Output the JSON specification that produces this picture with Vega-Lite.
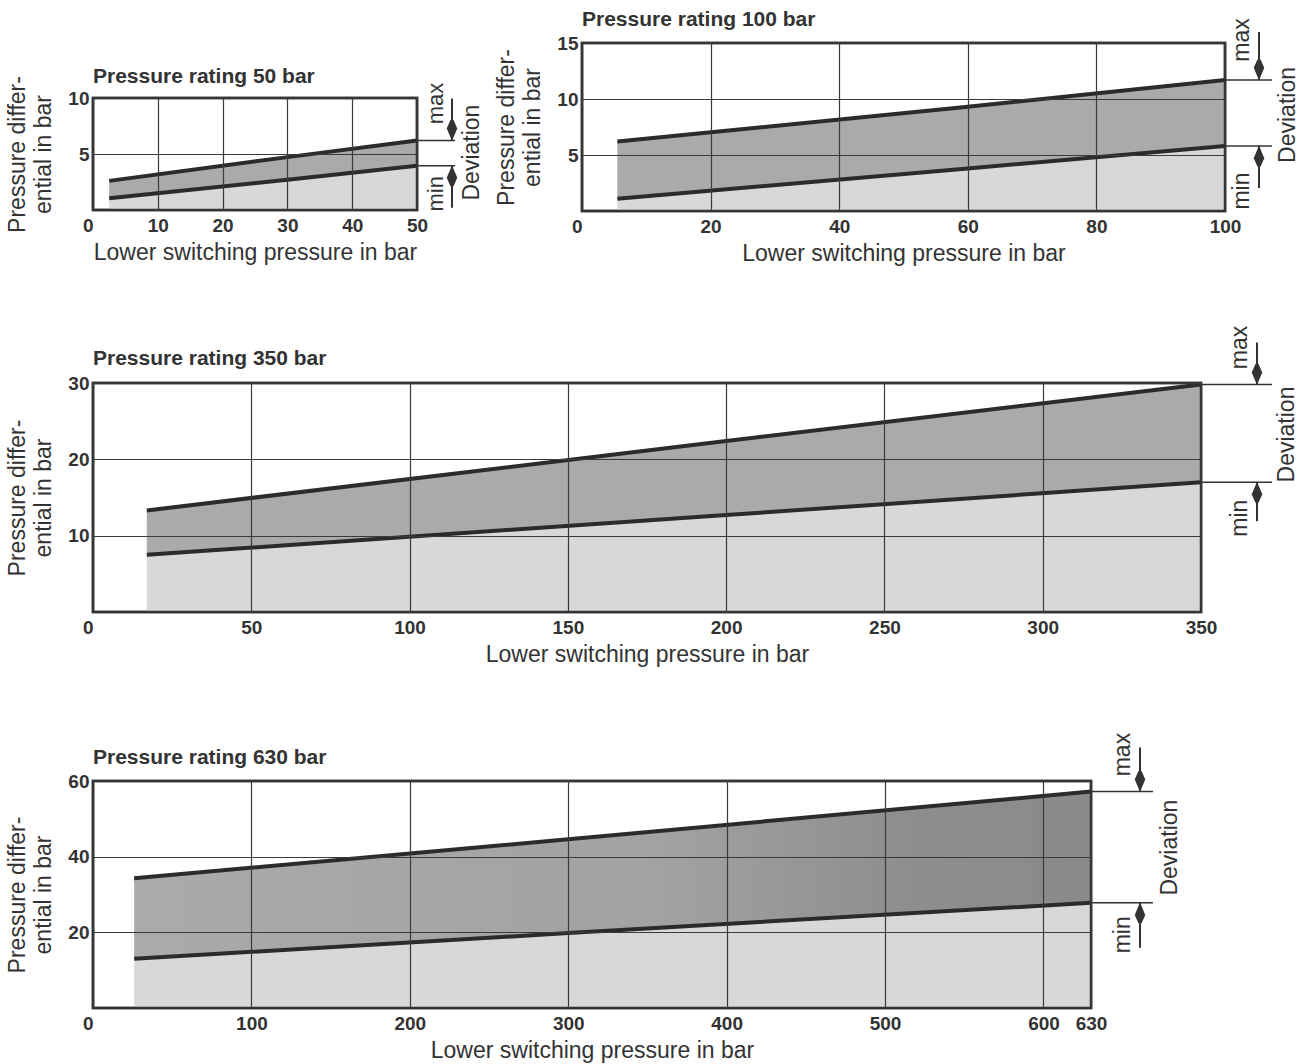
{
  "$schema": "https://vega.github.io/schema/vega-lite/v6.json",
  "background": "white",
  "padding": {"left": 5, "top": 7, "right": 5, "bottom": 0},
  "config": {
    "view": {"stroke": "#333333", "strokeWidth": 2.5},
    "axis": {"grid": true, "gridColor": "#3a3a3a", "gridWidth": 1.2, "gridOpacity": 1, "domain": false, "ticks": false,
      "labelFont": "Liberation Sans", "labelFontSize": 19, "labelFontWeight": "bold", "labelColor": "#333333",
      "titleFont": "Liberation Sans", "titleFontSize": 23, "titleFontWeight": "normal", "titleColor": "#333333",
      "labelOverlap": false},
    "axisX": {"labelPadding": 6, "titlePadding": 6, "labelFlush": false},
    "axisY": {"labelPadding": 4, "titlePadding": 12, "titleLineHeight": 26},
    "text": {"font": "Liberation Sans"}
  },
  "datasets": {
    "r50": [{"p": 2.5, "lo": 1.05, "hi": 2.6}, {"p": 30, "lo": 2.7, "hi": 4.72}, {"p": 50, "lo": 3.95, "hi": 6.2}],
    "r100": [{"p": 5.5, "lo": 1.1, "hi": 6.2}, {"p": 60, "lo": 3.8, "hi": 9.3}, {"p": 100, "lo": 5.8, "hi": 11.7}],
    "r350": [{"p": 17, "lo": 7.5, "hi": 13.3}, {"p": 200, "lo": 12.7, "hi": 22.4}, {"p": 350, "lo": 17.0, "hi": 29.8}],
    "r630": [{"p": 26, "lo": 13.0, "hi": 34.3}, {"p": 300, "lo": 19.8, "hi": 44.6}, {"p": 630, "lo": 27.8, "hi": 57.2}]
  },
  "spacing": 57,
  "vconcat": [
    {
      "columns": 2,
      "align": "none",
      "spacing": 8,
      "concat": [
        {"spacing": 20, "vconcat": [
        {"width": 10, "height": 1, "view": {"stroke": null, "fill": null}, "data": {"values": [{}]},
         "mark": {"type": "point", "opacity": 0, "size": 0}, "encoding": {}},
        {
          "width": 324, "height": 112,
          "data": {"name": "r50"},
          "layer": [
            {"mark": {"type": "area", "color": "#d8d8d8"},
             "encoding": {
               "x": {"field": "p", "type": "quantitative", "scale": {"domain": [0, 50], "nice": false, "zero": false},
                     "axis": {"values": [0, 10, 20, 30, 40, 50], "title": "Lower switching pressure in bar", "zindex": 1,
                              "labelExpr": "datum.value === 0 ? '0 ' : datum.label",
                              "labelAlign": {"condition": {"test": "datum.value === 0", "value": "right"}, "value": "center"}}},
               "y": {"field": "lo", "type": "quantitative", "scale": {"domain": [0, 10], "nice": false},
                     "axis": {"values": [5, 10], "title": ["Pressure differ-", "ential in bar"], "zindex": 1}},
               "y2": {"datum": 0}}},
            {"mark": {"type": "area", "color": "#aaaaaa"},
             "encoding": {"x": {"field": "p", "type": "quantitative"}, "y": {"field": "hi", "type": "quantitative"}, "y2": {"field": "lo"}}},
            {"mark": {"type": "line", "color": "#2b2b2b", "strokeWidth": 4}, "encoding": {"x": {"field": "p", "type": "quantitative"}, "y": {"field": "lo", "type": "quantitative"}}},
            {"mark": {"type": "line", "color": "#2b2b2b", "strokeWidth": 4}, "encoding": {"x": {"field": "p", "type": "quantitative"}, "y": {"field": "hi", "type": "quantitative"}}},
            {"data": {"values": [{}]}, "mark": {"type": "rect", "fill": null, "stroke": "#333333", "strokeWidth": 2.5},
             "encoding": {"x": {"datum": 0}, "x2": {"datum": 50}, "y": {"datum": 0}, "y2": {"datum": 10}}},
            {"transform": [{"joinaggregate": [{"op": "max", "field": "p", "as": "pm"}]}, {"filter": "datum.p == datum.pm"}],
             "layer": [
               {"mark": {"type": "rule", "color": "#333333", "strokeWidth": 1.5, "x2Offset": 38}, "encoding": {"x": {"field": "p", "type": "quantitative"}, "x2": {"field": "p"}, "y": {"field": "hi", "type": "quantitative"}}},
               {"mark": {"type": "rule", "color": "#333333", "strokeWidth": 1.5, "x2Offset": 38}, "encoding": {"x": {"field": "p", "type": "quantitative"}, "x2": {"field": "p"}, "y": {"field": "lo", "type": "quantitative"}}},
               {"mark": {"type": "rule", "color": "#333333", "strokeWidth": 2, "xOffset": 35, "y2Offset": -42}, "encoding": {"x": {"field": "p", "type": "quantitative"}, "y": {"field": "hi", "type": "quantitative"}, "y2": {"field": "hi"}}},
               {"mark": {"type": "rule", "color": "#333333", "strokeWidth": 2, "xOffset": 35, "y2Offset": 42}, "encoding": {"x": {"field": "p", "type": "quantitative"}, "y": {"field": "lo", "type": "quantitative"}, "y2": {"field": "lo"}}},
               {"mark": {"type": "point", "shape": "M-0.15,-1L0.15,-1L0.5,-0.2L0,1L-0.5,-0.2Z", "filled": true, "opacity": 1, "strokeWidth": 0, "color": "#333333", "size": 441, "xOffset": 35, "yOffset": -10}, "encoding": {"x": {"field": "p", "type": "quantitative"}, "y": {"field": "hi", "type": "quantitative"}}},
               {"mark": {"type": "point", "shape": "M-0.15,1L0.15,1L0.5,0.2L0,-1L-0.5,0.2Z", "filled": true, "opacity": 1, "strokeWidth": 0, "color": "#333333", "size": 441, "xOffset": 35, "yOffset": 10}, "encoding": {"x": {"field": "p", "type": "quantitative"}, "y": {"field": "lo", "type": "quantitative"}}},
               {"mark": {"type": "text", "text": "max", "angle": 270, "align": "center", "baseline": "middle", "fontSize": 22, "color": "#333333", "xOffset": 19, "yOffset": -37}, "encoding": {"x": {"field": "p", "type": "quantitative"}, "y": {"field": "hi", "type": "quantitative"}}},
               {"mark": {"type": "text", "text": "min", "angle": 270, "align": "center", "baseline": "middle", "fontSize": 22, "color": "#333333", "xOffset": 19, "yOffset": 28}, "encoding": {"x": {"field": "p", "type": "quantitative"}, "y": {"field": "lo", "type": "quantitative"}}},
               {"mark": {"type": "text", "text": "Deviation", "angle": 270, "align": "center", "baseline": "middle", "fontSize": 23, "color": "#333333", "xOffset": 55, "yOffset": 12}, "encoding": {"x": {"field": "p", "type": "quantitative"}, "y": {"field": "hi", "type": "quantitative"}}}
             ]},
            {"data": {"values": [{}]}, "mark": {"type": "text", "text": "Pressure rating 50 bar", "align": "left", "baseline": "alphabetic", "fontSize": 21, "fontWeight": "bold", "color": "#333333", "yOffset": -15},
             "encoding": {"x": {"datum": 0}, "y": {"datum": 10}}}
          ]
        }]},
        {
          "width": 643, "height": 168,
          "data": {"name": "r100"},
          "layer": [
            {"mark": {"type": "area", "color": "#d8d8d8"},
             "encoding": {
               "x": {"field": "p", "type": "quantitative", "scale": {"domain": [0, 100], "nice": false, "zero": false},
                     "axis": {"values": [0, 20, 40, 60, 80, 100], "title": "Lower switching pressure in bar", "zindex": 1,
                              "labelExpr": "datum.value === 0 ? '0 ' : datum.label",
                              "labelAlign": {"condition": {"test": "datum.value === 0", "value": "right"}, "value": "center"}}},
               "y": {"field": "lo", "type": "quantitative", "scale": {"domain": [0, 15], "nice": false},
                     "axis": {"values": [5, 10, 15], "title": ["Pressure differ-", "ential in bar"], "zindex": 1}},
               "y2": {"datum": 0}}},
            {"mark": {"type": "area", "color": "#aaaaaa"},
             "encoding": {"x": {"field": "p", "type": "quantitative"}, "y": {"field": "hi", "type": "quantitative"}, "y2": {"field": "lo"}}},
            {"mark": {"type": "line", "color": "#2b2b2b", "strokeWidth": 4}, "encoding": {"x": {"field": "p", "type": "quantitative"}, "y": {"field": "lo", "type": "quantitative"}}},
            {"mark": {"type": "line", "color": "#2b2b2b", "strokeWidth": 4}, "encoding": {"x": {"field": "p", "type": "quantitative"}, "y": {"field": "hi", "type": "quantitative"}}},
            {"data": {"values": [{}]}, "mark": {"type": "rect", "fill": null, "stroke": "#333333", "strokeWidth": 2.5},
             "encoding": {"x": {"datum": 0}, "x2": {"datum": 100}, "y": {"datum": 0}, "y2": {"datum": 15}}},
            {"transform": [{"joinaggregate": [{"op": "max", "field": "p", "as": "pm"}]}, {"filter": "datum.p == datum.pm"}],
             "layer": [
               {"mark": {"type": "rule", "color": "#333333", "strokeWidth": 1.5, "x2Offset": 47}, "encoding": {"x": {"field": "p", "type": "quantitative"}, "x2": {"field": "p"}, "y": {"field": "hi", "type": "quantitative"}}},
               {"mark": {"type": "rule", "color": "#333333", "strokeWidth": 1.5, "x2Offset": 47}, "encoding": {"x": {"field": "p", "type": "quantitative"}, "x2": {"field": "p"}, "y": {"field": "lo", "type": "quantitative"}}},
               {"mark": {"type": "rule", "color": "#333333", "strokeWidth": 2, "xOffset": 34, "y2Offset": -48}, "encoding": {"x": {"field": "p", "type": "quantitative"}, "y": {"field": "hi", "type": "quantitative"}, "y2": {"field": "hi"}}},
               {"mark": {"type": "rule", "color": "#333333", "strokeWidth": 2, "xOffset": 34, "y2Offset": 42}, "encoding": {"x": {"field": "p", "type": "quantitative"}, "y": {"field": "lo", "type": "quantitative"}, "y2": {"field": "lo"}}},
               {"mark": {"type": "point", "shape": "M-0.15,-1L0.15,-1L0.5,-0.2L0,1L-0.5,-0.2Z", "filled": true, "opacity": 1, "strokeWidth": 0, "color": "#333333", "size": 441, "xOffset": 34, "yOffset": -10}, "encoding": {"x": {"field": "p", "type": "quantitative"}, "y": {"field": "hi", "type": "quantitative"}}},
               {"mark": {"type": "point", "shape": "M-0.15,1L0.15,1L0.5,0.2L0,-1L-0.5,0.2Z", "filled": true, "opacity": 1, "strokeWidth": 0, "color": "#333333", "size": 441, "xOffset": 34, "yOffset": 10}, "encoding": {"x": {"field": "p", "type": "quantitative"}, "y": {"field": "lo", "type": "quantitative"}}},
               {"mark": {"type": "text", "text": "max", "angle": 270, "align": "center", "baseline": "middle", "fontSize": 23, "color": "#333333", "xOffset": 17, "yOffset": -40}, "encoding": {"x": {"field": "p", "type": "quantitative"}, "y": {"field": "hi", "type": "quantitative"}}},
               {"mark": {"type": "text", "text": "min", "angle": 270, "align": "center", "baseline": "middle", "fontSize": 23, "color": "#333333", "xOffset": 17, "yOffset": 45}, "encoding": {"x": {"field": "p", "type": "quantitative"}, "y": {"field": "lo", "type": "quantitative"}}},
               {"mark": {"type": "text", "text": "Deviation", "angle": 270, "align": "center", "baseline": "middle", "fontSize": 23, "color": "#333333", "xOffset": 63, "yOffset": 35}, "encoding": {"x": {"field": "p", "type": "quantitative"}, "y": {"field": "hi", "type": "quantitative"}}}
             ]},
            {"data": {"values": [{}]}, "mark": {"type": "text", "text": "Pressure rating 100 bar", "align": "left", "baseline": "alphabetic", "fontSize": 21, "fontWeight": "bold", "color": "#333333", "yOffset": -17},
             "encoding": {"x": {"datum": 0}, "y": {"datum": 15}}}
          ]
        }
      ]
    },
    {
      "spacing": 63,
      "vconcat": [
        {
          "width": 1108, "height": 229,
          "data": {"name": "r350"},
          "layer": [
            {"mark": {"type": "area", "color": "#d8d8d8"},
             "encoding": {
               "x": {"field": "p", "type": "quantitative", "scale": {"domain": [0, 350], "nice": false, "zero": false},
                     "axis": {"values": [0, 50, 100, 150, 200, 250, 300, 350], "title": "Lower switching pressure in bar", "zindex": 1,
                              "labelExpr": "datum.value === 0 ? '0 ' : datum.label",
                              "labelAlign": {"condition": {"test": "datum.value === 0", "value": "right"}, "value": "center"}}},
               "y": {"field": "lo", "type": "quantitative", "scale": {"domain": [0, 30], "nice": false},
                     "axis": {"values": [10, 20, 30], "title": ["Pressure differ-", "ential in bar"], "zindex": 1}},
               "y2": {"datum": 0}}},
            {"mark": {"type": "area", "color": "#aaaaaa"},
             "encoding": {"x": {"field": "p", "type": "quantitative"}, "y": {"field": "hi", "type": "quantitative"}, "y2": {"field": "lo"}}},
            {"mark": {"type": "line", "color": "#2b2b2b", "strokeWidth": 4}, "encoding": {"x": {"field": "p", "type": "quantitative"}, "y": {"field": "lo", "type": "quantitative"}}},
            {"mark": {"type": "line", "color": "#2b2b2b", "strokeWidth": 4}, "encoding": {"x": {"field": "p", "type": "quantitative"}, "y": {"field": "hi", "type": "quantitative"}}},
            {"data": {"values": [{}]}, "mark": {"type": "rect", "fill": null, "stroke": "#333333", "strokeWidth": 2.5},
             "encoding": {"x": {"datum": 0}, "x2": {"datum": 350}, "y": {"datum": 0}, "y2": {"datum": 30}}},
            {"transform": [{"joinaggregate": [{"op": "max", "field": "p", "as": "pm"}]}, {"filter": "datum.p == datum.pm"}],
             "layer": [
               {"mark": {"type": "rule", "color": "#333333", "strokeWidth": 1.5, "x2Offset": 71}, "encoding": {"x": {"field": "p", "type": "quantitative"}, "x2": {"field": "p"}, "y": {"field": "hi", "type": "quantitative"}}},
               {"mark": {"type": "rule", "color": "#333333", "strokeWidth": 1.5, "x2Offset": 71}, "encoding": {"x": {"field": "p", "type": "quantitative"}, "x2": {"field": "p"}, "y": {"field": "lo", "type": "quantitative"}}},
               {"mark": {"type": "rule", "color": "#333333", "strokeWidth": 2, "xOffset": 56, "y2Offset": -42}, "encoding": {"x": {"field": "p", "type": "quantitative"}, "y": {"field": "hi", "type": "quantitative"}, "y2": {"field": "hi"}}},
               {"mark": {"type": "rule", "color": "#333333", "strokeWidth": 2, "xOffset": 56, "y2Offset": 39}, "encoding": {"x": {"field": "p", "type": "quantitative"}, "y": {"field": "lo", "type": "quantitative"}, "y2": {"field": "lo"}}},
               {"mark": {"type": "point", "shape": "M-0.15,-1L0.15,-1L0.5,-0.2L0,1L-0.5,-0.2Z", "filled": true, "opacity": 1, "strokeWidth": 0, "color": "#333333", "size": 441, "xOffset": 56, "yOffset": -10}, "encoding": {"x": {"field": "p", "type": "quantitative"}, "y": {"field": "hi", "type": "quantitative"}}},
               {"mark": {"type": "point", "shape": "M-0.15,1L0.15,1L0.5,0.2L0,-1L-0.5,0.2Z", "filled": true, "opacity": 1, "strokeWidth": 0, "color": "#333333", "size": 441, "xOffset": 56, "yOffset": 10}, "encoding": {"x": {"field": "p", "type": "quantitative"}, "y": {"field": "lo", "type": "quantitative"}}},
               {"mark": {"type": "text", "text": "max", "angle": 270, "align": "center", "baseline": "middle", "fontSize": 23, "color": "#333333", "xOffset": 39, "yOffset": -37}, "encoding": {"x": {"field": "p", "type": "quantitative"}, "y": {"field": "hi", "type": "quantitative"}}},
               {"mark": {"type": "text", "text": "min", "angle": 270, "align": "center", "baseline": "middle", "fontSize": 23, "color": "#333333", "xOffset": 39, "yOffset": 36}, "encoding": {"x": {"field": "p", "type": "quantitative"}, "y": {"field": "lo", "type": "quantitative"}}},
               {"mark": {"type": "text", "text": "Deviation", "angle": 270, "align": "center", "baseline": "middle", "fontSize": 23, "color": "#333333", "xOffset": 86, "yOffset": 50}, "encoding": {"x": {"field": "p", "type": "quantitative"}, "y": {"field": "hi", "type": "quantitative"}}}
             ]},
            {"data": {"values": [{}]}, "mark": {"type": "text", "text": "Pressure rating 350 bar", "align": "left", "baseline": "alphabetic", "fontSize": 21, "fontWeight": "bold", "color": "#333333", "yOffset": -18},
             "encoding": {"x": {"datum": 0}, "y": {"datum": 30}}}
          ]
        },
        {
          "width": 998, "height": 227,
          "data": {"name": "r630"},
          "layer": [
            {"mark": {"type": "area", "color": "#d8d8d8"},
             "encoding": {
               "x": {"field": "p", "type": "quantitative", "scale": {"domain": [0, 630], "nice": false, "zero": false},
                     "axis": {"values": [0, 100, 200, 300, 400, 500, 600, 630], "title": "Lower switching pressure in bar", "zindex": 1,
                              "labelExpr": "datum.value === 0 ? '0 ' : datum.label",
                              "labelAlign": {"condition": {"test": "datum.value === 0", "value": "right"}, "value": "center"}}},
               "y": {"field": "lo", "type": "quantitative", "scale": {"domain": [0, 60], "nice": false},
                     "axis": {"values": [20, 40, 60], "title": ["Pressure differ-", "ential in bar"], "zindex": 1}},
               "y2": {"datum": 0}}},
            {"mark": {"type": "area", "color": {"gradient": "linear", "x1": 0, "x2": 1, "y1": 0, "y2": 0,
                "stops": [{"offset": 0, "color": "#aaaaaa"}, {"offset": 0.55, "color": "#a2a2a2"}, {"offset": 0.8, "color": "#8e8e8e"}, {"offset": 1, "color": "#8a8a8a"}]}},
             "encoding": {"x": {"field": "p", "type": "quantitative"}, "y": {"field": "hi", "type": "quantitative"}, "y2": {"field": "lo"}}},
            {"mark": {"type": "line", "color": "#2b2b2b", "strokeWidth": 4}, "encoding": {"x": {"field": "p", "type": "quantitative"}, "y": {"field": "lo", "type": "quantitative"}}},
            {"mark": {"type": "line", "color": "#2b2b2b", "strokeWidth": 4}, "encoding": {"x": {"field": "p", "type": "quantitative"}, "y": {"field": "hi", "type": "quantitative"}}},
            {"data": {"values": [{}]}, "mark": {"type": "rect", "fill": null, "stroke": "#333333", "strokeWidth": 2.5},
             "encoding": {"x": {"datum": 0}, "x2": {"datum": 630}, "y": {"datum": 0}, "y2": {"datum": 60}}},
            {"transform": [{"joinaggregate": [{"op": "max", "field": "p", "as": "pm"}]}, {"filter": "datum.p == datum.pm"}],
             "layer": [
               {"mark": {"type": "rule", "color": "#333333", "strokeWidth": 1.5, "x2Offset": 62}, "encoding": {"x": {"field": "p", "type": "quantitative"}, "x2": {"field": "p"}, "y": {"field": "hi", "type": "quantitative"}}},
               {"mark": {"type": "rule", "color": "#333333", "strokeWidth": 1.5, "x2Offset": 62}, "encoding": {"x": {"field": "p", "type": "quantitative"}, "x2": {"field": "p"}, "y": {"field": "lo", "type": "quantitative"}}},
               {"mark": {"type": "rule", "color": "#333333", "strokeWidth": 2, "xOffset": 49, "y2Offset": -44}, "encoding": {"x": {"field": "p", "type": "quantitative"}, "y": {"field": "hi", "type": "quantitative"}, "y2": {"field": "hi"}}},
               {"mark": {"type": "rule", "color": "#333333", "strokeWidth": 2, "xOffset": 49, "y2Offset": 45}, "encoding": {"x": {"field": "p", "type": "quantitative"}, "y": {"field": "lo", "type": "quantitative"}, "y2": {"field": "lo"}}},
               {"mark": {"type": "point", "shape": "M-0.15,-1L0.15,-1L0.5,-0.2L0,1L-0.5,-0.2Z", "filled": true, "opacity": 1, "strokeWidth": 0, "color": "#333333", "size": 441, "xOffset": 49, "yOffset": -10}, "encoding": {"x": {"field": "p", "type": "quantitative"}, "y": {"field": "hi", "type": "quantitative"}}},
               {"mark": {"type": "point", "shape": "M-0.15,1L0.15,1L0.5,0.2L0,-1L-0.5,0.2Z", "filled": true, "opacity": 1, "strokeWidth": 0, "color": "#333333", "size": 441, "xOffset": 49, "yOffset": 10}, "encoding": {"x": {"field": "p", "type": "quantitative"}, "y": {"field": "lo", "type": "quantitative"}}},
               {"mark": {"type": "text", "text": "max", "angle": 270, "align": "center", "baseline": "middle", "fontSize": 23, "color": "#333333", "xOffset": 32, "yOffset": -37}, "encoding": {"x": {"field": "p", "type": "quantitative"}, "y": {"field": "hi", "type": "quantitative"}}},
               {"mark": {"type": "text", "text": "min", "angle": 270, "align": "center", "baseline": "middle", "fontSize": 23, "color": "#333333", "xOffset": 32, "yOffset": 32}, "encoding": {"x": {"field": "p", "type": "quantitative"}, "y": {"field": "lo", "type": "quantitative"}}},
               {"mark": {"type": "text", "text": "Deviation", "angle": 270, "align": "center", "baseline": "middle", "fontSize": 23, "color": "#333333", "xOffset": 79, "yOffset": 56}, "encoding": {"x": {"field": "p", "type": "quantitative"}, "y": {"field": "hi", "type": "quantitative"}}}
             ]},
            {"data": {"values": [{}]}, "mark": {"type": "text", "text": "Pressure rating 630 bar", "align": "left", "baseline": "alphabetic", "fontSize": 21, "fontWeight": "bold", "color": "#333333", "yOffset": -17},
             "encoding": {"x": {"datum": 0}, "y": {"datum": 60}}}
          ]
        }
      ]
    }
  ]
}
